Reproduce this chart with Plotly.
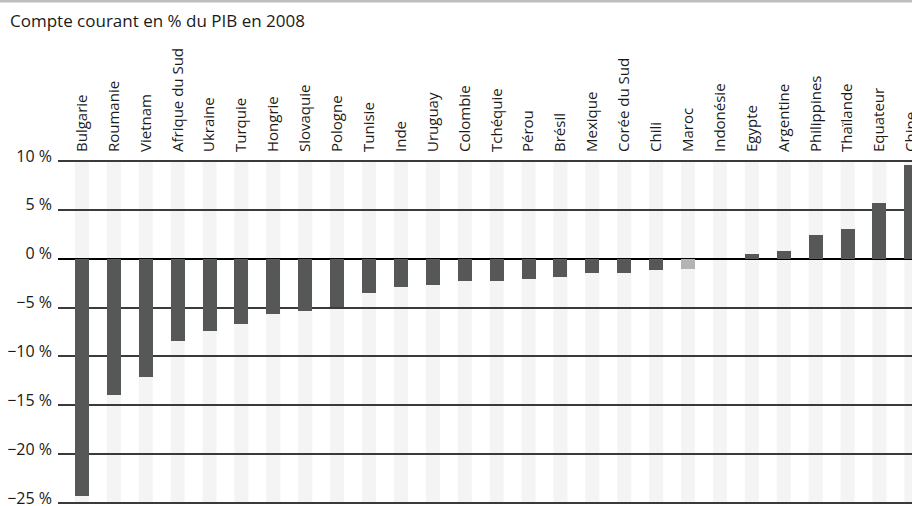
import plotly.graph_objects as go

countries = ["Bulgarie", "Roumanie", "Vietnam", "Afrique du Sud", "Ukraine", "Turquie",
             "Hongrie", "Slovaquie", "Pologne", "Tunisie", "Inde", "Uruguay", "Colombie",
             "Tchéquie", "Pérou", "Brésil", "Mexique", "Corée du Sud", "Chili", "Maroc",
             "Indonésie", "Egypte", "Argentine", "Philippines", "Thaïlande", "Equateur", "Chine"]
values = [-24.3, -13.9, -12.1, -8.4, -7.4, -6.7, -5.7, -5.3, -4.9, -3.5, -2.9, -2.7, -2.3,
          -2.3, -2.1, -1.9, -1.5, -1.5, -1.2, -1.1, 0.0, 0.5, 0.8, 2.4, 3.0, 5.7, 9.6]
highlight = ["Maroc"]
tick_vals = [10, 5, 0, -5, -10, -15, -20, -25]
tick_text = ["10 %", "5 %", "0 %", "−5 %", "−10 %", "−15 %", "−20 %", "−25 %"]
title_text = "Compte courant en % du PIB en 2008"

FONT = "Open Sans"
BAR_W = 0.44
colors = ["#b4b4b4" if c in highlight else "#565857" for c in countries]

W, H = 912, 506
ML, MR, MT, MB = 58, 0, 159, 1
PW, PH = W - ML - MR, H - MT - MB

fig = go.Figure()
fig.add_trace(go.Bar(x=countries, y=values, marker_color=colors, width=BAR_W,
                     marker_line_width=0, hoverinfo="x+y"))

# light background columns behind each category
for i, _ in enumerate(countries):
    fig.add_shape(type="rect", xref="x", yref="y", x0=i - BAR_W / 2, x1=i + BAR_W / 2,
                  y0=min(tick_vals), y1=max(tick_vals), fillcolor="#f4f4f4",
                  line_width=0, layer="below")

# gray top rule
fig.add_shape(type="line", xref="paper", yref="paper", x0=-ML / PW, x1=1,
              y0=(H - MB - 1) / PH, y1=(H - MB - 1) / PH,
              line=dict(color="#bdbdbd", width=3))

# title
fig.add_annotation(text=title_text, xref="paper", yref="paper",
                   x=-(ML - 8) / PW, y=(H - MB - 21) / PH, xanchor="left", yanchor="middle",
                   showarrow=False, font=dict(family=FONT, size=17, color="#1a1a1a"))

fig.update_layout(
    width=W, height=H,
    margin=dict(l=ML, r=MR, t=MT, b=MB, autoexpand=False),
    paper_bgcolor="white", plot_bgcolor="rgba(0,0,0,0)",
    showlegend=False, bargap=0,
    font=dict(family=FONT, color="#1a1a1a"),
    xaxis=dict(type="category", side="top", tickangle=-90, range=[-0.75, 26.02],
               automargin=False,
               showgrid=False, showline=False, ticks="", zeroline=False,
               ticklabelstandoff=6,
               tickfont=dict(family=FONT, size=15, color="#1a1a1a")),
    yaxis=dict(range=[-25.2, 10.2], tickvals=tick_vals, ticktext=tick_text,
               automargin=False, ticklabeloverflow="allow",
               showgrid=True, gridcolor="#3a3a3a", gridwidth=1.5,
               zeroline=True, zerolinecolor="#000000", zerolinewidth=2,
               showline=False, ticks="", ticklabelshift=-5, ticklabelstandoff=5,
               tickfont=dict(family=FONT, size=16, color="#1a1a1a")),
)

fig.write_html("out.html", config={"displayModeBar": False},
               post_script="document.body.style.margin='0';document.body.style.overflow='hidden';")
